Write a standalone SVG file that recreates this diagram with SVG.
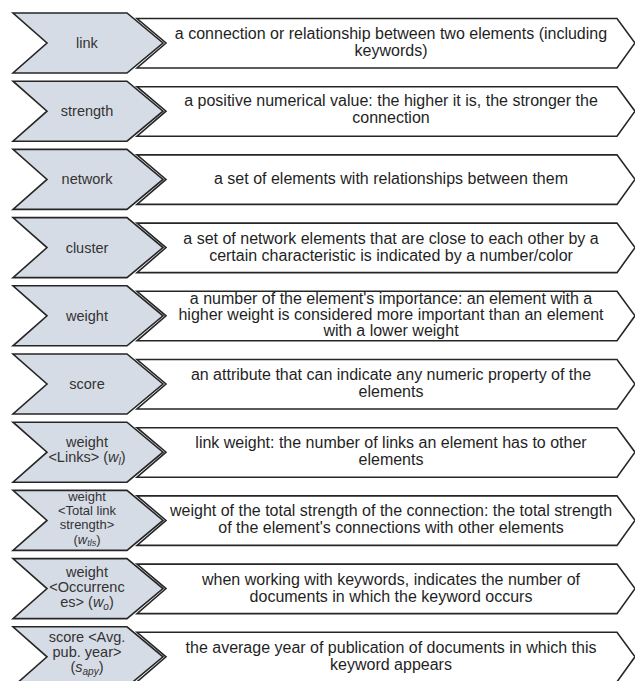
<svg xmlns="http://www.w3.org/2000/svg" width="635" height="681" viewBox="0 0 635 681">
<defs>
<style>
.term{fill:#d6dce5;stroke:#262626;stroke-width:1.6;stroke-linejoin:miter}
.def{fill:#ffffff;stroke:#262626;stroke-width:1.6;stroke-linejoin:miter}
.tl{font-family:"Liberation Sans",Arial,sans-serif;font-size:14.5px;fill:#333333;text-anchor:middle}
.tl.sm{font-size:13px}
.tr{font-family:"Liberation Sans",Arial,sans-serif;font-size:16px;fill:#1f1f1f;text-anchor:middle}
.it{font-style:italic}
.sub{font-style:italic;font-size:10px}
.sub.sm{font-size:9px}
</style>
<path id="termShape" d="M13,0 L127,0 L163,30 L127,60 L13,60 L47,30 Z"/>
<path id="defShape" d="M137,5.5 L617,5.5 L635,30 L617,55 L137,55 L166,30 Z"/>
</defs>
<rect width="635" height="681" fill="#ffffff"/>

<g id="row1" transform="translate(0,13)">
<g id="term-link"><use href="#termShape" class="term"/><text class="tl" x="87" y="35">link</text></g>
<g id="def-link"><use href="#defShape" class="def"/><text class="tr" x="391" y="26">a connection or relationship between two elements (including</text><text class="tr" x="391" y="43">keywords)</text></g>
</g>

<g id="row2" transform="translate(0,81.2)">
<g id="term-strength"><use href="#termShape" class="term"/><text class="tl" x="87" y="35">strength</text></g>
<g id="def-strength"><use href="#defShape" class="def"/><text class="tr" x="391" y="24.5">a positive numerical value: the higher it is, the stronger the</text><text class="tr" x="391" y="41.5">connection</text></g>
</g>

<g id="row3" transform="translate(0,149.4)">
<g id="term-network"><use href="#termShape" class="term"/><text class="tl" x="87" y="35">network</text></g>
<g id="def-network"><use href="#defShape" class="def"/><text class="tr" x="391" y="34.5">a set of elements with relationships between them</text></g>
</g>

<g id="row4" transform="translate(0,217.6)">
<g id="term-cluster"><use href="#termShape" class="term"/><text class="tl" x="87" y="35">cluster</text></g>
<g id="def-cluster"><use href="#defShape" class="def"/><text class="tr" x="391" y="26">a set of network elements that are close to each other by a</text><text class="tr" x="391" y="43">certain characteristic is indicated by a number/color</text></g>
</g>

<g id="row5" transform="translate(0,285.8)">
<g id="term-weight"><use href="#termShape" class="term"/><text class="tl" x="87" y="35">weight</text></g>
<g id="def-weight"><use href="#defShape" class="def"/><text class="tr" x="391" y="18.5">a number of the element's importance: an element with a</text><text class="tr" x="391" y="34.5">higher weight is considered more important than an element</text><text class="tr" x="391" y="50.5">with a lower weight</text></g>
</g>

<g id="row6" transform="translate(0,354)">
<g id="term-score"><use href="#termShape" class="term"/><text class="tl" x="87" y="35">score</text></g>
<g id="def-score"><use href="#defShape" class="def"/><text class="tr" x="391" y="26">an attribute that can indicate any numeric property of the</text><text class="tr" x="391" y="43">elements</text></g>
</g>

<g id="row7" transform="translate(0,422.2)">
<g id="term-weight-links"><use href="#termShape" class="term"/><text class="tl" x="87" y="25">weight</text><text class="tl" x="87" y="39.5">&lt;Links&gt; (<tspan class="it">w</tspan><tspan class="sub" dy="3">l</tspan><tspan dy="-3">)</tspan></text></g>
<g id="def-weight-links"><use href="#defShape" class="def"/><text class="tr" x="391" y="25.5">link weight: the number of links an element has to other</text><text class="tr" x="391" y="42.5">elements</text></g>
</g>

<g id="row8" transform="translate(0,490.4)">
<g id="term-weight-tls"><use href="#termShape" class="term"/><text class="tl sm" x="87" y="11">weight</text><text class="tl sm" x="87" y="25">&lt;Total link</text><text class="tl sm" x="87" y="39">strength&gt;</text><text class="tl sm" x="87" y="53.5">(<tspan class="it">w</tspan><tspan class="sub sm" dy="2.5">tls</tspan><tspan dy="-2.5">)</tspan></text></g>
<g id="def-weight-tls"><use href="#defShape" class="def"/><text class="tr" x="391" y="25.5">weight of the total strength of the connection: the total strength</text><text class="tr" x="391" y="42.5">of the element's connections with other elements</text></g>
</g>

<g id="row9" transform="translate(0,558.6)">
<g id="term-weight-occ"><use href="#termShape" class="term"/><text class="tl" x="87" y="18.5">weight</text><text class="tl" x="87" y="33.5">&lt;Occurrenc</text><text class="tl" x="87" y="48.5">es&gt; (<tspan class="it">w</tspan><tspan class="sub" dy="3">o</tspan><tspan dy="-3">)</tspan></text></g>
<g id="def-weight-occ"><use href="#defShape" class="def"/><text class="tr" x="391" y="26">when working with keywords, indicates the number of</text><text class="tr" x="391" y="43">documents in which the keyword occurs</text></g>
</g>

<g id="row10" transform="translate(0,626.8)">
<g id="term-score-apy"><use href="#termShape" class="term"/><text class="tl" x="87" y="15">score &lt;Avg.</text><text class="tl" x="87" y="30">pub. year&gt;</text><text class="tl" x="87" y="45">(<tspan class="it">s</tspan><tspan class="sub" dy="3">apy</tspan><tspan dy="-3">)</tspan></text></g>
<g id="def-score-apy"><use href="#defShape" class="def"/><text class="tr" x="391" y="26">the average year of publication of documents in which this</text><text class="tr" x="391" y="43">keyword appears</text></g>
</g>

<g id="connectors"></g>
</svg>
